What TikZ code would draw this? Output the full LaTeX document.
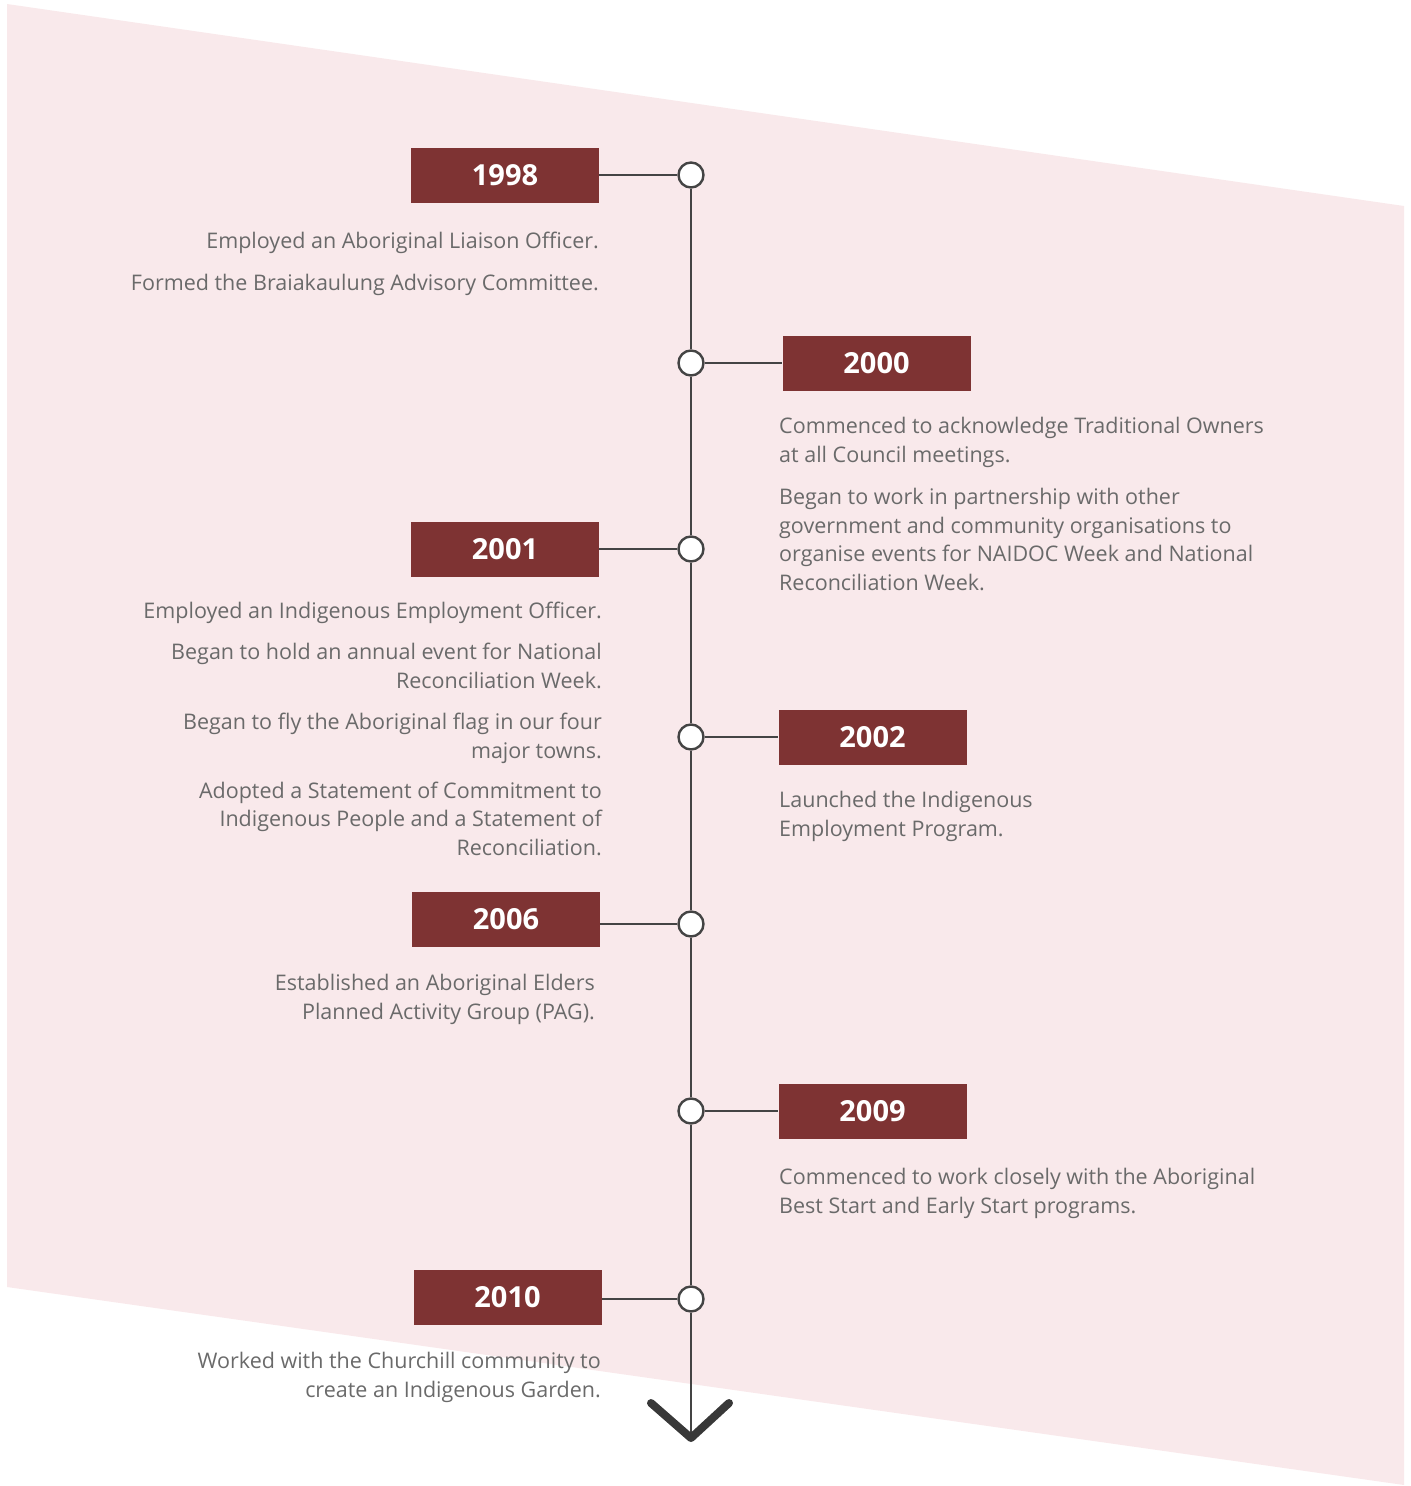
\documentclass[tikz,border=0pt]{standalone}
\usepackage{fontspec}
\setmainfont{Open Sans}
\definecolor{bgpink}{HTML}{F9E9EB}
\definecolor{yearred}{HTML}{7E3333}
\definecolor{linegray}{HTML}{444444}
\definecolor{txtgray}{HTML}{6A6A6A}
\begin{document}
\begin{tikzpicture}[x=1pt,y=-1pt,
  yearbox/.style={fill=yearred, draw=none, minimum width=188pt, minimum height=55pt, inner sep=0pt,
    text=white, font=\fontsize{29}{32}\selectfont\bfseries},
  dot/.style={circle, fill=white, draw=linegray, line width=2.4pt, minimum size=25pt, inner sep=0pt},
  conn/.style={draw=linegray, line width=2pt},
  lefttxt/.style={anchor=base east, align=right, inner sep=0pt, text=txtgray, font=\fontsize{21.5}{28.5}\selectfont},
  righttxt/.style={anchor=base west, align=left, inner sep=0pt, text=txtgray, font=\fontsize{21.5}{28.5}\selectfont},
  chev/.style={draw=black!78, line width=8pt, line cap=round, line join=round}
]
\useasboundingbox (0,0) rectangle (1411,1486);
\fill[bgpink] (7,4) -- (1404,206) -- (1404,1485) -- (7,1287) -- cycle;

% circles
\node[dot] (c1) at (691,175) {};
\node[dot] (c2) at (691,363) {};
\node[dot] (c3) at (691,549) {};
\node[dot] (c4) at (691,737) {};
\node[dot] (c5) at (691,924) {};
\node[dot] (c6) at (691,1111) {};
\node[dot] (c7) at (691,1299) {};
\coordinate (tip) at (691,1438);
\coordinate (chl) at (651,1403);
\coordinate (chr) at (729,1403);

% vertical line
\draw[conn] (c1) -- (c2);
\draw[conn] (c2) -- (c3);
\draw[conn] (c3) -- (c4);
\draw[conn] (c4) -- (c5);
\draw[conn] (c5) -- (c6);
\draw[conn] (c6) -- (c7);
\draw[conn] (c7) -- (tip);
\draw[chev] (chl) -- (tip) -- (chr);

% year boxes
\node[yearbox] (b1) at (505,175.5) {1998};
\node[yearbox] (b2) at (876.5,363.5) {2000};
\node[yearbox] (b3) at (505,549.5) {2001};
\node[yearbox] (b4) at (872.5,737.5) {2002};
\node[yearbox] (b5) at (506,919.5) {2006};
\node[yearbox] (b6) at (872.5,1111.5) {2009};
\node[yearbox] (b7) at (507.5,1297) {2010};

% connectors
\draw[conn] (b1.east |- c1) -- (c1);
\draw[conn] (c2) -- (b2.west |- c2);
\draw[conn] (b3.east |- c3) -- (c3);
\draw[conn] (c4) -- (b4.west |- c4);
\draw[conn] (b5.east |- c5) -- (c5);
\draw[conn] (c6) -- (b6.west |- c6);
\draw[conn] (b7.east |- c7) -- (c7);

% texts (base anchor = baseline of last line)
\node[lefttxt] (t1a) at (599,248) {Employed an Aboriginal Liaison Officer.};
\node[lefttxt] (t1b) at (599,290) {Formed the Braiakaulung Advisory Committee.};

\node[righttxt] (t2a) at (779,462) {Commenced to acknowledge Traditional Owners\\at all Council meetings.};
\node[righttxt] (t2b) at (779,590) {Began to work in partnership with other\\government and community organisations to\\organise events for NAIDOC Week and National\\Reconciliation Week.};

\node[lefttxt] (t3a) at (602,618) {Employed an Indigenous Employment Officer.};
\node[lefttxt] (t3b) at (602,688) {Began to hold an annual event for National\\Reconciliation Week.};
\node[lefttxt] (t3c) at (602,758) {Began to fly the Aboriginal flag in our four\\major towns.};
\node[lefttxt] (t3d) at (602,855) {Adopted a Statement of Commitment to\\Indigenous People and a Statement of\\Reconciliation.};

\node[righttxt] (t4) at (779,836) {Launched the Indigenous\\Employment Program.};

\node[lefttxt] (t5) at (595,1019) {Established an Aboriginal Elders\\Planned Activity Group (PAG).};

\node[righttxt] (t6) at (779,1213) {Commenced to work closely with the Aboriginal\\Best Start and Early Start programs.};

\node[lefttxt] (t7) at (601,1397) {Worked with the Churchill community to\\create an Indigenous Garden.};
\end{tikzpicture}
\end{document}
